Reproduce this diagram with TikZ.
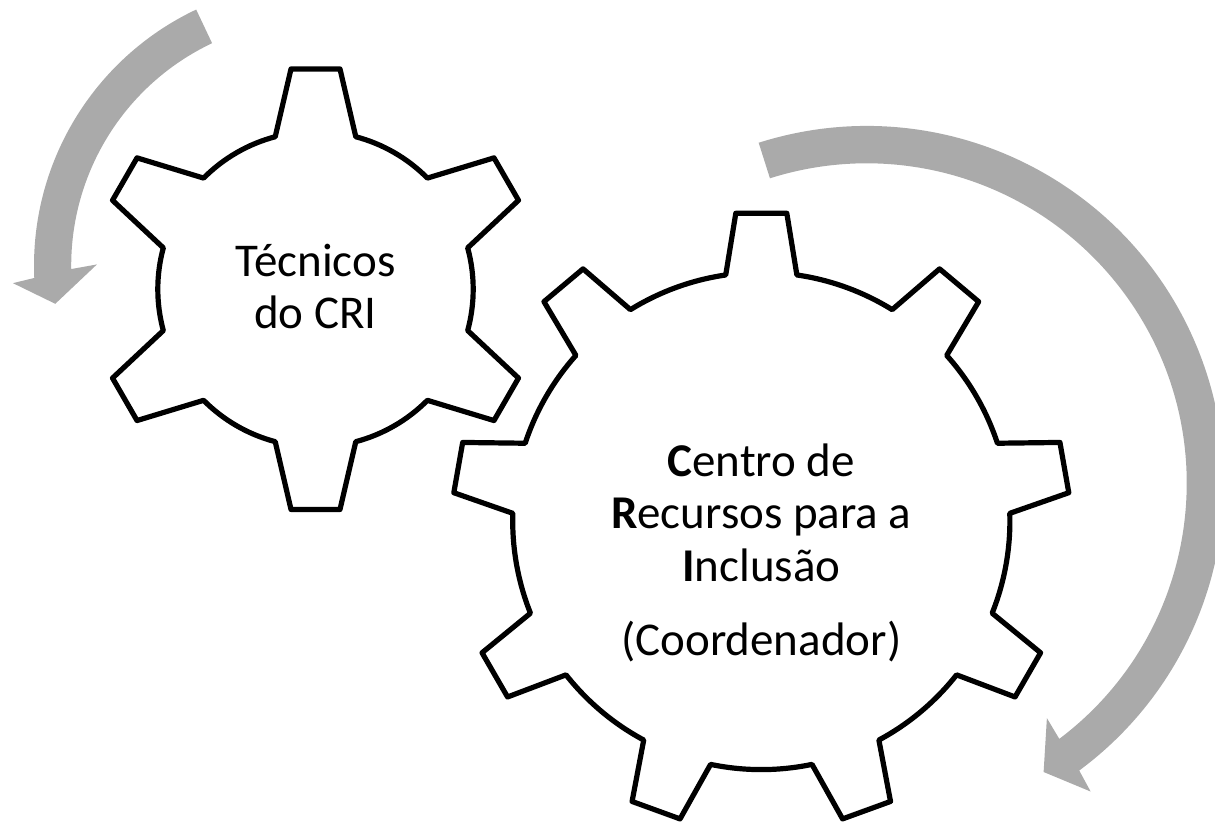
\documentclass[tikz,border=0pt]{standalone}
\usepackage{fontspec}
\setmainfont{Carlito}
\definecolor{arrowgray}{RGB}{170,170,170}
\tikzset{
  gearline/.style={draw=black, line width=5.2pt, fill=white, line join=round},
  turnarrow/.style={fill=arrowgray, draw=none},
  gearlabel/.style={anchor=base, inner sep=0pt, font=\fontsize{47}{56}\selectfont, text=black},
}
\begin{document}
\begin{tikzpicture}[x=1pt,y=-1pt]
\useasboundingbox (0,0) rectangle (1215,822);

% big rotation arrow (clockwise, around the large gear)
\begin{scope}[shift={(866.7,483.3)}, yscale=-1]
  \fill[turnarrow] (107.6:357.3) arc[start angle=107.6, end angle=-53.5, radius=357.3]
    -- (-54:381) -- (-58.5:338.6) -- (-52.5:296) -- (-53:320)
    arc[start angle=-53, end angle=107.6, radius=320] -- cycle;
\end{scope}

% small rotation arrow (counter-clockwise, left of the small gear)
\begin{scope}[shift={(317.2,265.6)}, yscale=-1]
  \fill[turnarrow] (115.3:283.2) arc[start angle=115.3, end angle=182.5, radius=283.2]
    -- (183.3:304.8) -- (188.3:264.7) -- (179.7:220.3) -- (180.8:246)
    arc[start angle=180.8, end angle=115.3, radius=246] -- cycle;
\end{scope}

% small gear (6 teeth)
\begin{scope}[shift={(315.5,289.2)}, yscale=-1]
  \draw[gearline] (75.2:157.7)
    \foreach \k in {0,...,5} {
      -- ({90+\k*60-6.35}:221.6) -- ({90+\k*60+6.35}:221.6) -- ({90+\k*60+14.8}:157.7)
      arc[start angle={90+\k*60+14.8}, end angle={90+(\k+1)*60-14.8}, radius=157.7]
    } -- cycle;
\end{scope}

% large gear (9 teeth)
\begin{scope}[shift={(761.3,521)}, yscale=-1]
  \draw[gearline] (81.77:248.6)
    \foreach \k in {0,...,8} {
      -- ({90+\k*40-4.74}:308.8) -- ({90+\k*40+4.74}:308.8) -- ({90+\k*40+8.23}:248.6)
      arc[start angle={90+\k*40+8.23}, end angle={90+(\k+1)*40-8.23}, radius=248.6]
    } -- cycle;
\end{scope}

% labels
\node[gearlabel] (tec1) at (315.5,276) {Técnicos};
\node[gearlabel] (tec2) at (315.5,328.3) {do CRI};

\node[gearlabel] (cri1) at (761.3,476) {\textbf{C}entro de};
\node[gearlabel] (cri2) at (761.3,528.9) {\textbf{R}ecursos para a};
\node[gearlabel] (cri3) at (761.3,581.7) {\textbf{I}nclusão};
\node[gearlabel] (cri4) at (761.3,655) {(Coordenador)};
\end{tikzpicture}
\end{document}
